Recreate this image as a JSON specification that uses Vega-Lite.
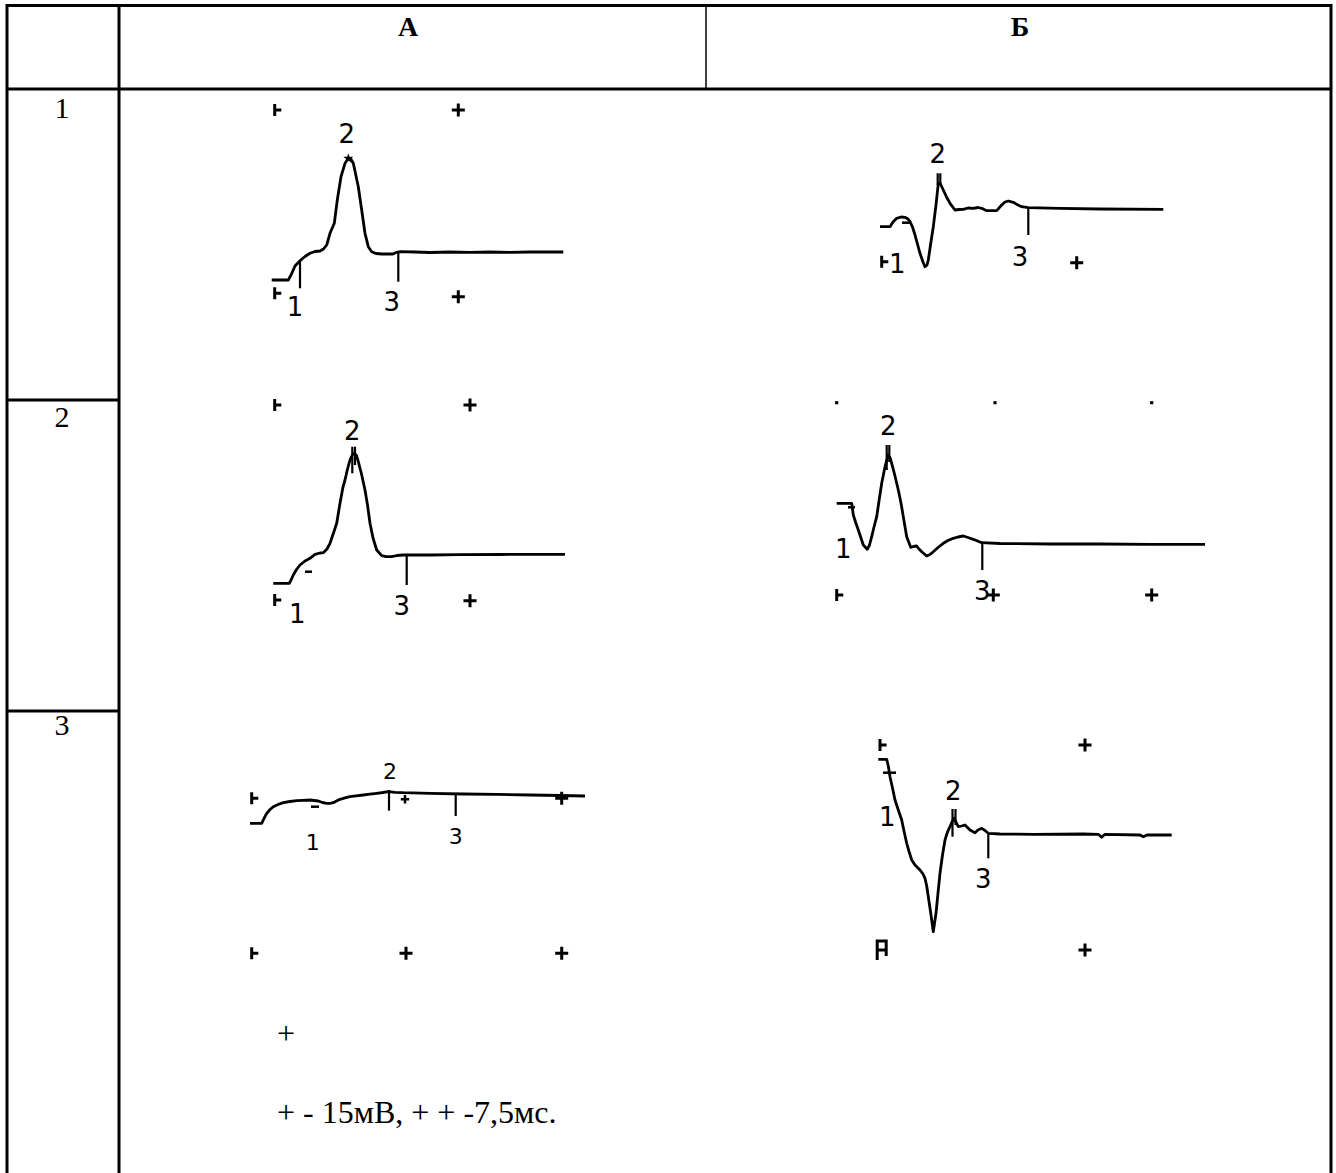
{
  "$schema": "https://vega.github.io/schema/vega-lite/v6.json",
  "width": 1336,
  "height": 1173,
  "autosize": {"type": "none"},
  "padding": 0,
  "background": "white",
  "config": {"view": {"stroke": null}},
  "datasets": {
    "grid": [
      {"x": 7, "x2": 1331, "y": 5.5, "y2": 5.5},
      {"x": 7, "x2": 1331, "y": 89, "y2": 89},
      {"x": 7, "x2": 7, "y": 4, "y2": 1173},
      {"x": 119, "x2": 119, "y": 4, "y2": 1173},
      {"x": 1331, "x2": 1331, "y": 4, "y2": 1173},
      {"x": 7, "x2": 119, "y": 400, "y2": 400},
      {"x": 7, "x2": 119, "y": 711, "y2": 711}
    ],
    "gridThin": [
      {"x": 706, "x2": 706, "y": 5.5, "y2": 89}
    ],
    "traces": [
      {"panel": "A1", "x": 271.7, "y": 280}, {"panel": "A1", "x": 288.3, "y": 280}, {"panel": "A1", "x": 291.5, "y": 274}, {"panel": "A1", "x": 295, "y": 266}, {"panel": "A1", "x": 300, "y": 260.7}, {"panel": "A1", "x": 305, "y": 256.5}, {"panel": "A1", "x": 310, "y": 253.3}, {"panel": "A1", "x": 315, "y": 251.5}, {"panel": "A1", "x": 320, "y": 251}, {"panel": "A1", "x": 323.5, "y": 249}, {"panel": "A1", "x": 326.7, "y": 245}, {"panel": "A1", "x": 330, "y": 233.3}, {"panel": "A1", "x": 334.3, "y": 223.3}, {"panel": "A1", "x": 337.3, "y": 200}, {"panel": "A1", "x": 341, "y": 176.7}, {"panel": "A1", "x": 345, "y": 163.3}, {"panel": "A1", "x": 348.3, "y": 158.5}, {"panel": "A1", "x": 350.5, "y": 158.5}, {"panel": "A1", "x": 353.3, "y": 163.3}, {"panel": "A1", "x": 358.3, "y": 186.7}, {"panel": "A1", "x": 361.7, "y": 210}, {"panel": "A1", "x": 365, "y": 233.3}, {"panel": "A1", "x": 368.3, "y": 246.7}, {"panel": "A1", "x": 371.7, "y": 251.7}, {"panel": "A1", "x": 376, "y": 253.5}, {"panel": "A1", "x": 382, "y": 254}, {"panel": "A1", "x": 393, "y": 254}, {"panel": "A1", "x": 396, "y": 252.5}, {"panel": "A1", "x": 400, "y": 251.7}, {"panel": "A1", "x": 415, "y": 252}, {"panel": "A1", "x": 430, "y": 252.5}, {"panel": "A1", "x": 450, "y": 252}, {"panel": "A1", "x": 470, "y": 252.3}, {"panel": "A1", "x": 490, "y": 252}, {"panel": "A1", "x": 510, "y": 252.3}, {"panel": "A1", "x": 530, "y": 252}, {"panel": "A1", "x": 563.3, "y": 252},

      {"panel": "B1", "x": 880, "y": 226.7}, {"panel": "B1", "x": 890, "y": 226.7}, {"panel": "B1", "x": 893, "y": 222}, {"panel": "B1", "x": 896.7, "y": 218.3}, {"panel": "B1", "x": 901, "y": 217}, {"panel": "B1", "x": 905, "y": 217.3}, {"panel": "B1", "x": 908, "y": 219}, {"panel": "B1", "x": 910, "y": 221.7}, {"panel": "B1", "x": 912.5, "y": 227}, {"panel": "B1", "x": 915, "y": 235}, {"panel": "B1", "x": 920, "y": 253.3}, {"panel": "B1", "x": 923, "y": 262}, {"panel": "B1", "x": 925, "y": 266.7}, {"panel": "B1", "x": 927, "y": 265}, {"panel": "B1", "x": 928.3, "y": 260}, {"panel": "B1", "x": 930.5, "y": 245}, {"panel": "B1", "x": 933.3, "y": 226.7}, {"panel": "B1", "x": 936, "y": 205}, {"panel": "B1", "x": 938.3, "y": 183.3}, {"panel": "B1", "x": 940.5, "y": 184}, {"panel": "B1", "x": 943.3, "y": 190}, {"panel": "B1", "x": 946.5, "y": 197}, {"panel": "B1", "x": 950, "y": 203.3}, {"panel": "B1", "x": 955, "y": 210}, {"panel": "B1", "x": 959, "y": 209.5}, {"panel": "B1", "x": 963.3, "y": 209.3}, {"panel": "B1", "x": 968, "y": 208}, {"panel": "B1", "x": 973.3, "y": 208.3}, {"panel": "B1", "x": 978, "y": 207.5}, {"panel": "B1", "x": 981.7, "y": 208.3}, {"panel": "B1", "x": 986.7, "y": 210.7}, {"panel": "B1", "x": 996.7, "y": 210.7}, {"panel": "B1", "x": 1001.7, "y": 205}, {"panel": "B1", "x": 1005, "y": 202}, {"panel": "B1", "x": 1008.3, "y": 201}, {"panel": "B1", "x": 1013.3, "y": 202.3}, {"panel": "B1", "x": 1018, "y": 205}, {"panel": "B1", "x": 1021.7, "y": 206.7}, {"panel": "B1", "x": 1028.3, "y": 207.7}, {"panel": "B1", "x": 1060, "y": 208.3}, {"panel": "B1", "x": 1100, "y": 209}, {"panel": "B1", "x": 1163.3, "y": 209.3},

      {"panel": "A2", "x": 273.3, "y": 583.3}, {"panel": "A2", "x": 289.3, "y": 583.3}, {"panel": "A2", "x": 291.5, "y": 579}, {"panel": "A2", "x": 293.3, "y": 575}, {"panel": "A2", "x": 296.5, "y": 569.5}, {"panel": "A2", "x": 300, "y": 565}, {"panel": "A2", "x": 305, "y": 561}, {"panel": "A2", "x": 310, "y": 558.3}, {"panel": "A2", "x": 315, "y": 554.3}, {"panel": "A2", "x": 320, "y": 553}, {"panel": "A2", "x": 323.3, "y": 552.7}, {"panel": "A2", "x": 327, "y": 549}, {"panel": "A2", "x": 330, "y": 543.3}, {"panel": "A2", "x": 333.5, "y": 533}, {"panel": "A2", "x": 336.7, "y": 523.3}, {"panel": "A2", "x": 340, "y": 503.3}, {"panel": "A2", "x": 343, "y": 487}, {"panel": "A2", "x": 345, "y": 480}, {"panel": "A2", "x": 347.5, "y": 469}, {"panel": "A2", "x": 350, "y": 460}, {"panel": "A2", "x": 352.5, "y": 454.5}, {"panel": "A2", "x": 354.3, "y": 453.3}, {"panel": "A2", "x": 356.5, "y": 455.5}, {"panel": "A2", "x": 358.3, "y": 461.7}, {"panel": "A2", "x": 361.5, "y": 474}, {"panel": "A2", "x": 365, "y": 490}, {"panel": "A2", "x": 367.5, "y": 505}, {"panel": "A2", "x": 370, "y": 523.3}, {"panel": "A2", "x": 373, "y": 538}, {"panel": "A2", "x": 376.7, "y": 550}, {"panel": "A2", "x": 381.7, "y": 555.7}, {"panel": "A2", "x": 386, "y": 556.7}, {"panel": "A2", "x": 391.7, "y": 556.7}, {"panel": "A2", "x": 397, "y": 555.5}, {"panel": "A2", "x": 403.3, "y": 555}, {"panel": "A2", "x": 430, "y": 555}, {"panel": "A2", "x": 460, "y": 554.7}, {"panel": "A2", "x": 500, "y": 554.5}, {"panel": "A2", "x": 530, "y": 554.3}, {"panel": "A2", "x": 565, "y": 554.3},

      {"panel": "B2", "x": 836.7, "y": 503.3}, {"panel": "B2", "x": 851.7, "y": 503.3}, {"panel": "B2", "x": 853.3, "y": 515}, {"panel": "B2", "x": 855.7, "y": 522.5}, {"panel": "B2", "x": 858.3, "y": 530}, {"panel": "B2", "x": 863.3, "y": 545}, {"panel": "B2", "x": 867.3, "y": 549.3}, {"panel": "B2", "x": 869.5, "y": 545}, {"panel": "B2", "x": 871.7, "y": 536.7}, {"panel": "B2", "x": 874, "y": 527}, {"panel": "B2", "x": 876.7, "y": 516.7}, {"panel": "B2", "x": 879, "y": 501}, {"panel": "B2", "x": 881.7, "y": 483.3}, {"panel": "B2", "x": 885, "y": 466.7}, {"panel": "B2", "x": 888.3, "y": 455}, {"panel": "B2", "x": 890, "y": 457.5}, {"panel": "B2", "x": 891.7, "y": 463.3}, {"panel": "B2", "x": 895, "y": 476}, {"panel": "B2", "x": 898.3, "y": 490}, {"panel": "B2", "x": 901, "y": 503}, {"panel": "B2", "x": 903.3, "y": 516.7}, {"panel": "B2", "x": 906.7, "y": 536.7}, {"panel": "B2", "x": 910.7, "y": 547.3}, {"panel": "B2", "x": 913.5, "y": 546.5}, {"panel": "B2", "x": 916.7, "y": 546}, {"panel": "B2", "x": 919, "y": 549}, {"panel": "B2", "x": 921.7, "y": 551.7}, {"panel": "B2", "x": 926.7, "y": 556}, {"panel": "B2", "x": 930, "y": 554.5}, {"panel": "B2", "x": 933.3, "y": 551.7}, {"panel": "B2", "x": 938, "y": 547.5}, {"panel": "B2", "x": 943.3, "y": 543.3}, {"panel": "B2", "x": 948, "y": 540.5}, {"panel": "B2", "x": 953.3, "y": 538.3}, {"panel": "B2", "x": 958, "y": 537}, {"panel": "B2", "x": 963.3, "y": 536}, {"panel": "B2", "x": 968, "y": 537.5}, {"panel": "B2", "x": 973.3, "y": 539.3}, {"panel": "B2", "x": 977.5, "y": 541}, {"panel": "B2", "x": 981.7, "y": 542.7}, {"panel": "B2", "x": 1000, "y": 543.5}, {"panel": "B2", "x": 1050, "y": 544}, {"panel": "B2", "x": 1100, "y": 544}, {"panel": "B2", "x": 1150, "y": 544.3}, {"panel": "B2", "x": 1205, "y": 544.3},

      {"panel": "A3", "x": 250, "y": 823.3}, {"panel": "A3", "x": 261.7, "y": 823.3}, {"panel": "A3", "x": 264, "y": 818.5}, {"panel": "A3", "x": 266.7, "y": 813.3}, {"panel": "A3", "x": 270, "y": 809.5}, {"panel": "A3", "x": 273.3, "y": 806.7}, {"panel": "A3", "x": 278, "y": 804.5}, {"panel": "A3", "x": 283.3, "y": 802.7}, {"panel": "A3", "x": 290, "y": 801.5}, {"panel": "A3", "x": 296.7, "y": 800.7}, {"panel": "A3", "x": 303, "y": 800.3}, {"panel": "A3", "x": 310, "y": 800}, {"panel": "A3", "x": 318.3, "y": 801}, {"panel": "A3", "x": 322.5, "y": 802.5}, {"panel": "A3", "x": 326.7, "y": 803.3}, {"panel": "A3", "x": 330, "y": 803.3}, {"panel": "A3", "x": 333.3, "y": 802.7}, {"panel": "A3", "x": 336.5, "y": 801}, {"panel": "A3", "x": 340, "y": 799.3}, {"panel": "A3", "x": 345, "y": 797.8}, {"panel": "A3", "x": 350, "y": 796.7}, {"panel": "A3", "x": 356, "y": 795.8}, {"panel": "A3", "x": 363.3, "y": 795}, {"panel": "A3", "x": 370, "y": 794.2}, {"panel": "A3", "x": 376.7, "y": 793.3}, {"panel": "A3", "x": 383, "y": 792.5}, {"panel": "A3", "x": 388.3, "y": 791.7}, {"panel": "A3", "x": 395, "y": 792.3}, {"panel": "A3", "x": 403.3, "y": 792.7}, {"panel": "A3", "x": 430, "y": 793.3}, {"panel": "A3", "x": 463.3, "y": 794}, {"panel": "A3", "x": 496.7, "y": 794.3}, {"panel": "A3", "x": 530, "y": 795}, {"panel": "A3", "x": 560, "y": 795.5}, {"panel": "A3", "x": 585, "y": 796},

      {"panel": "B3", "x": 878.3, "y": 759.3}, {"panel": "B3", "x": 886.7, "y": 759.3}, {"panel": "B3", "x": 888.3, "y": 766}, {"panel": "B3", "x": 890, "y": 776.7}, {"panel": "B3", "x": 892.5, "y": 788}, {"panel": "B3", "x": 895, "y": 800}, {"panel": "B3", "x": 898.3, "y": 810}, {"panel": "B3", "x": 901.7, "y": 820}, {"panel": "B3", "x": 904.2, "y": 832}, {"panel": "B3", "x": 906.7, "y": 843.3}, {"panel": "B3", "x": 909.2, "y": 852}, {"panel": "B3", "x": 911.7, "y": 860}, {"panel": "B3", "x": 915, "y": 865}, {"panel": "B3", "x": 920, "y": 870}, {"panel": "B3", "x": 923, "y": 874}, {"panel": "B3", "x": 925, "y": 878.3}, {"panel": "B3", "x": 926.7, "y": 886}, {"panel": "B3", "x": 928.3, "y": 896.7}, {"panel": "B3", "x": 930, "y": 908}, {"panel": "B3", "x": 931.7, "y": 920}, {"panel": "B3", "x": 933.3, "y": 931.7}, {"panel": "B3", "x": 934.7, "y": 922}, {"panel": "B3", "x": 936, "y": 913.3}, {"panel": "B3", "x": 938, "y": 893}, {"panel": "B3", "x": 940, "y": 873.3}, {"panel": "B3", "x": 942.5, "y": 855}, {"panel": "B3", "x": 945, "y": 840}, {"panel": "B3", "x": 947.5, "y": 832}, {"panel": "B3", "x": 950, "y": 826.7}, {"panel": "B3", "x": 952, "y": 822}, {"panel": "B3", "x": 954, "y": 818.3}, {"panel": "B3", "x": 956, "y": 822}, {"panel": "B3", "x": 958.3, "y": 826.7}, {"panel": "B3", "x": 961.5, "y": 826}, {"panel": "B3", "x": 965, "y": 825}, {"panel": "B3", "x": 967.5, "y": 827.5}, {"panel": "B3", "x": 970, "y": 830}, {"panel": "B3", "x": 975, "y": 832.7}, {"panel": "B3", "x": 978, "y": 830}, {"panel": "B3", "x": 981.7, "y": 828.3}, {"panel": "B3", "x": 985, "y": 830.5}, {"panel": "B3", "x": 988.3, "y": 833.3}, {"panel": "B3", "x": 1000, "y": 834}, {"panel": "B3", "x": 1033.3, "y": 834.3}, {"panel": "B3", "x": 1083.3, "y": 834}, {"panel": "B3", "x": 1098.3, "y": 834.3}, {"panel": "B3", "x": 1101.7, "y": 837.3}, {"panel": "B3", "x": 1105, "y": 834.3}, {"panel": "B3", "x": 1140, "y": 835}, {"panel": "B3", "x": 1143.3, "y": 836.7}, {"panel": "B3", "x": 1147, "y": 835}, {"panel": "B3", "x": 1156.7, "y": 835}, {"panel": "B3", "x": 1171.7, "y": 835}
    ],
    "ticks": [
      {"x": 300, "y": 260.7, "y2": 288.3},
      {"x": 398.3, "y": 252, "y2": 281.7},
      {"x": 937.7, "y": 173.3, "y2": 185},
      {"x": 940.3, "y": 173.3, "y2": 185},
      {"x": 1028.3, "y": 207.7, "y2": 235},
      {"x": 352.3, "y": 446.7, "y2": 473.3},
      {"x": 355, "y": 446.7, "y2": 465},
      {"x": 406.7, "y": 555, "y2": 585},
      {"x": 886.7, "y": 445, "y2": 470},
      {"x": 889.3, "y": 445, "y2": 462},
      {"x": 982.3, "y": 542.7, "y2": 570},
      {"x": 389, "y": 790, "y2": 810.7},
      {"x": 455.7, "y": 794.3, "y2": 816},
      {"x": 952.5, "y": 809, "y2": 836.7},
      {"x": 955.5, "y": 809, "y2": 825},
      {"x": 988.3, "y": 833.3, "y2": 858.3}
    ],
    "dashes": [
      {"x": 305, "x2": 312, "y": 571.7},
      {"x": 902, "x2": 910, "y": 222.7},
      {"x": 311, "x2": 319, "y": 806.7},
      {"x": 848, "x2": 855, "y": 507.3},
      {"x": 883, "x2": 896, "y": 772.7}
    ],
    "pointLabels": [
      {"x": 346.7, "y": 135, "t": "2"}, {"x": 295, "y": 308.3, "t": "1"}, {"x": 391.7, "y": 303.3, "t": "3"},
      {"x": 937.7, "y": 155, "t": "2"}, {"x": 1020, "y": 258.3, "t": "3"}, {"x": 897.3, "y": 265, "t": "1"},
      {"x": 352.3, "y": 431.7, "t": "2"}, {"x": 401.7, "y": 606.7, "t": "3"}, {"x": 297.3, "y": 615, "t": "1"},
      {"x": 888.3, "y": 426.7, "t": "2"}, {"x": 982.3, "y": 591.7, "t": "3"}, {"x": 843.3, "y": 550, "t": "1"},
      {"x": 953.3, "y": 791.7, "t": "2"}, {"x": 983.3, "y": 880, "t": "3"}, {"x": 887.3, "y": 818.3, "t": "1"}
    ],
    "pointLabelsSmall": [
      {"x": 390, "y": 771.7, "t": "2"}, {"x": 455.7, "y": 836.7, "t": "3"}, {"x": 312.7, "y": 843.3, "t": "1"}
    ],
    "plus": [
      {"x": 458.3, "y": 110}, {"x": 458.3, "y": 296.7},
      {"x": 1076.7, "y": 262.7},
      {"x": 470, "y": 405}, {"x": 470, "y": 600.7},
      {"x": 993.3, "y": 595}, {"x": 1151.7, "y": 595},
      {"x": 561.7, "y": 798.3}, {"x": 406, "y": 953.3}, {"x": 561.7, "y": 953.3},
      {"x": 1085, "y": 745}, {"x": 1085, "y": 950}
    ],
    "plusSmall": [
      {"x": 405, "y": 799.3}
    ],
    "tee": [
      {"x": 274.7, "y": 110}, {"x": 274.7, "y": 293.3},
      {"x": 881.7, "y": 261.7},
      {"x": 274.7, "y": 405}, {"x": 274.7, "y": 600},
      {"x": 836.7, "y": 595},
      {"x": 251.7, "y": 798.3}, {"x": 251.7, "y": 953.3},
      {"x": 880, "y": 745}
    ],
    "dots": [
      {"x": 836.7, "y": 402.7}, {"x": 995, "y": 402.7}, {"x": 1151.7, "y": 402.7}
    ],
    "star": [
      {"x": 348.3, "y": 158.5}
    ],
    "oddMark": [
      {"x": 881.7, "y": 950}
    ],
    "rowLabels": [
      {"x": 62, "y": 108.7, "t": "1"},
      {"x": 62, "y": 417.5, "t": "2"},
      {"x": 62, "y": 726, "t": "3"}
    ],
    "headers": [
      {"x": 408, "y": 28, "t": "А"},
      {"x": 1020, "y": 28, "t": "Б"}
    ],
    "note": [
      {"x": 277, "y": 1034, "t": "+"},
      {"x": 277, "y": 1113, "t": "+ - 15мВ, + + -7,5мс."}
    ]
  },
  "encoding": {
    "x": {"field": "x", "type": "quantitative", "scale": {"domain": [0, 1336], "nice": false, "zero": false}, "axis": null},
    "y": {"field": "y", "type": "quantitative", "scale": {"domain": [0, 1173], "nice": false, "zero": false, "reverse": true}, "axis": null}
  },
  "layer": [
    {
      "data": {"name": "grid"},
      "mark": {"type": "rule", "color": "black", "strokeWidth": 3},
      "encoding": {"x2": {"field": "x2"}, "y2": {"field": "y2"}}
    },
    {
      "data": {"name": "gridThin"},
      "mark": {"type": "rule", "color": "black", "strokeWidth": 1.5},
      "encoding": {"x2": {"field": "x2"}, "y2": {"field": "y2"}}
    },
    {
      "data": {"name": "traces"},
      "mark": {"type": "line", "color": "black", "strokeWidth": 2.8, "strokeJoin": "round"},
      "encoding": {"detail": {"field": "panel", "type": "nominal"}}
    },
    {
      "data": {"name": "ticks"},
      "mark": {"type": "rule", "color": "black", "strokeWidth": 2.2},
      "encoding": {"y2": {"field": "y2"}}
    },
    {
      "data": {"name": "dashes"},
      "mark": {"type": "rule", "color": "black", "strokeWidth": 2.5},
      "encoding": {"x2": {"field": "x2"}}
    },
    {
      "data": {"name": "pointLabels"},
      "mark": {"type": "text", "font": "DejaVu Sans", "fontSize": 26, "color": "black", "align": "center", "baseline": "middle"},
      "encoding": {"text": {"field": "t"}}
    },
    {
      "data": {"name": "pointLabelsSmall"},
      "mark": {"type": "text", "font": "DejaVu Sans", "fontSize": 22, "color": "black", "align": "center", "baseline": "middle"},
      "encoding": {"text": {"field": "t"}}
    },
    {
      "data": {"name": "plus"},
      "mark": {"type": "point", "shape": "M-1,0H1M0,-1V1", "size": 170, "filled": false, "color": "black", "strokeWidth": 3, "opacity": 1}
    },
    {
      "data": {"name": "plusSmall"},
      "mark": {"type": "point", "shape": "M-1,0H1M0,-1V1", "size": 70, "filled": false, "color": "black", "strokeWidth": 2.5, "opacity": 1}
    },
    {
      "data": {"name": "tee"},
      "mark": {"type": "point", "shape": "M0,-1V1M0,0H1.1", "size": 144, "filled": false, "color": "black", "strokeWidth": 3, "opacity": 1}
    },
    {
      "data": {"name": "dots"},
      "mark": {"type": "point", "shape": "square", "size": 10, "filled": true, "color": "black", "opacity": 1}
    },
    {
      "data": {"name": "star"},
      "mark": {"type": "point", "shape": "M0,-1L0.22,-0.31L0.95,-0.31L0.36,0.12L0.59,0.81L0,0.38L-0.59,0.81L-0.36,0.12L-0.95,-0.31L-0.22,-0.31Z", "size": 110, "filled": true, "color": "black", "opacity": 1}
    },
    {
      "data": {"name": "oddMark"},
      "mark": {"type": "point", "shape": "M-0.45,1V-0.9H0.45V0.6M-0.45,0H0.45", "size": 400, "filled": false, "color": "black", "strokeWidth": 3, "opacity": 1}
    },
    {
      "data": {"name": "rowLabels"},
      "mark": {"type": "text", "font": "Liberation Serif", "fontSize": 30, "color": "black", "align": "center", "baseline": "middle"},
      "encoding": {"text": {"field": "t"}}
    },
    {
      "data": {"name": "headers"},
      "mark": {"type": "text", "font": "Liberation Serif", "fontSize": 28, "fontWeight": "bold", "color": "black", "align": "center", "baseline": "middle"},
      "encoding": {"text": {"field": "t"}}
    },
    {
      "data": {"name": "note"},
      "mark": {"type": "text", "font": "Liberation Serif", "fontSize": 32, "color": "black", "align": "left", "baseline": "middle"},
      "encoding": {"text": {"field": "t"}}
    }
  ]
}
